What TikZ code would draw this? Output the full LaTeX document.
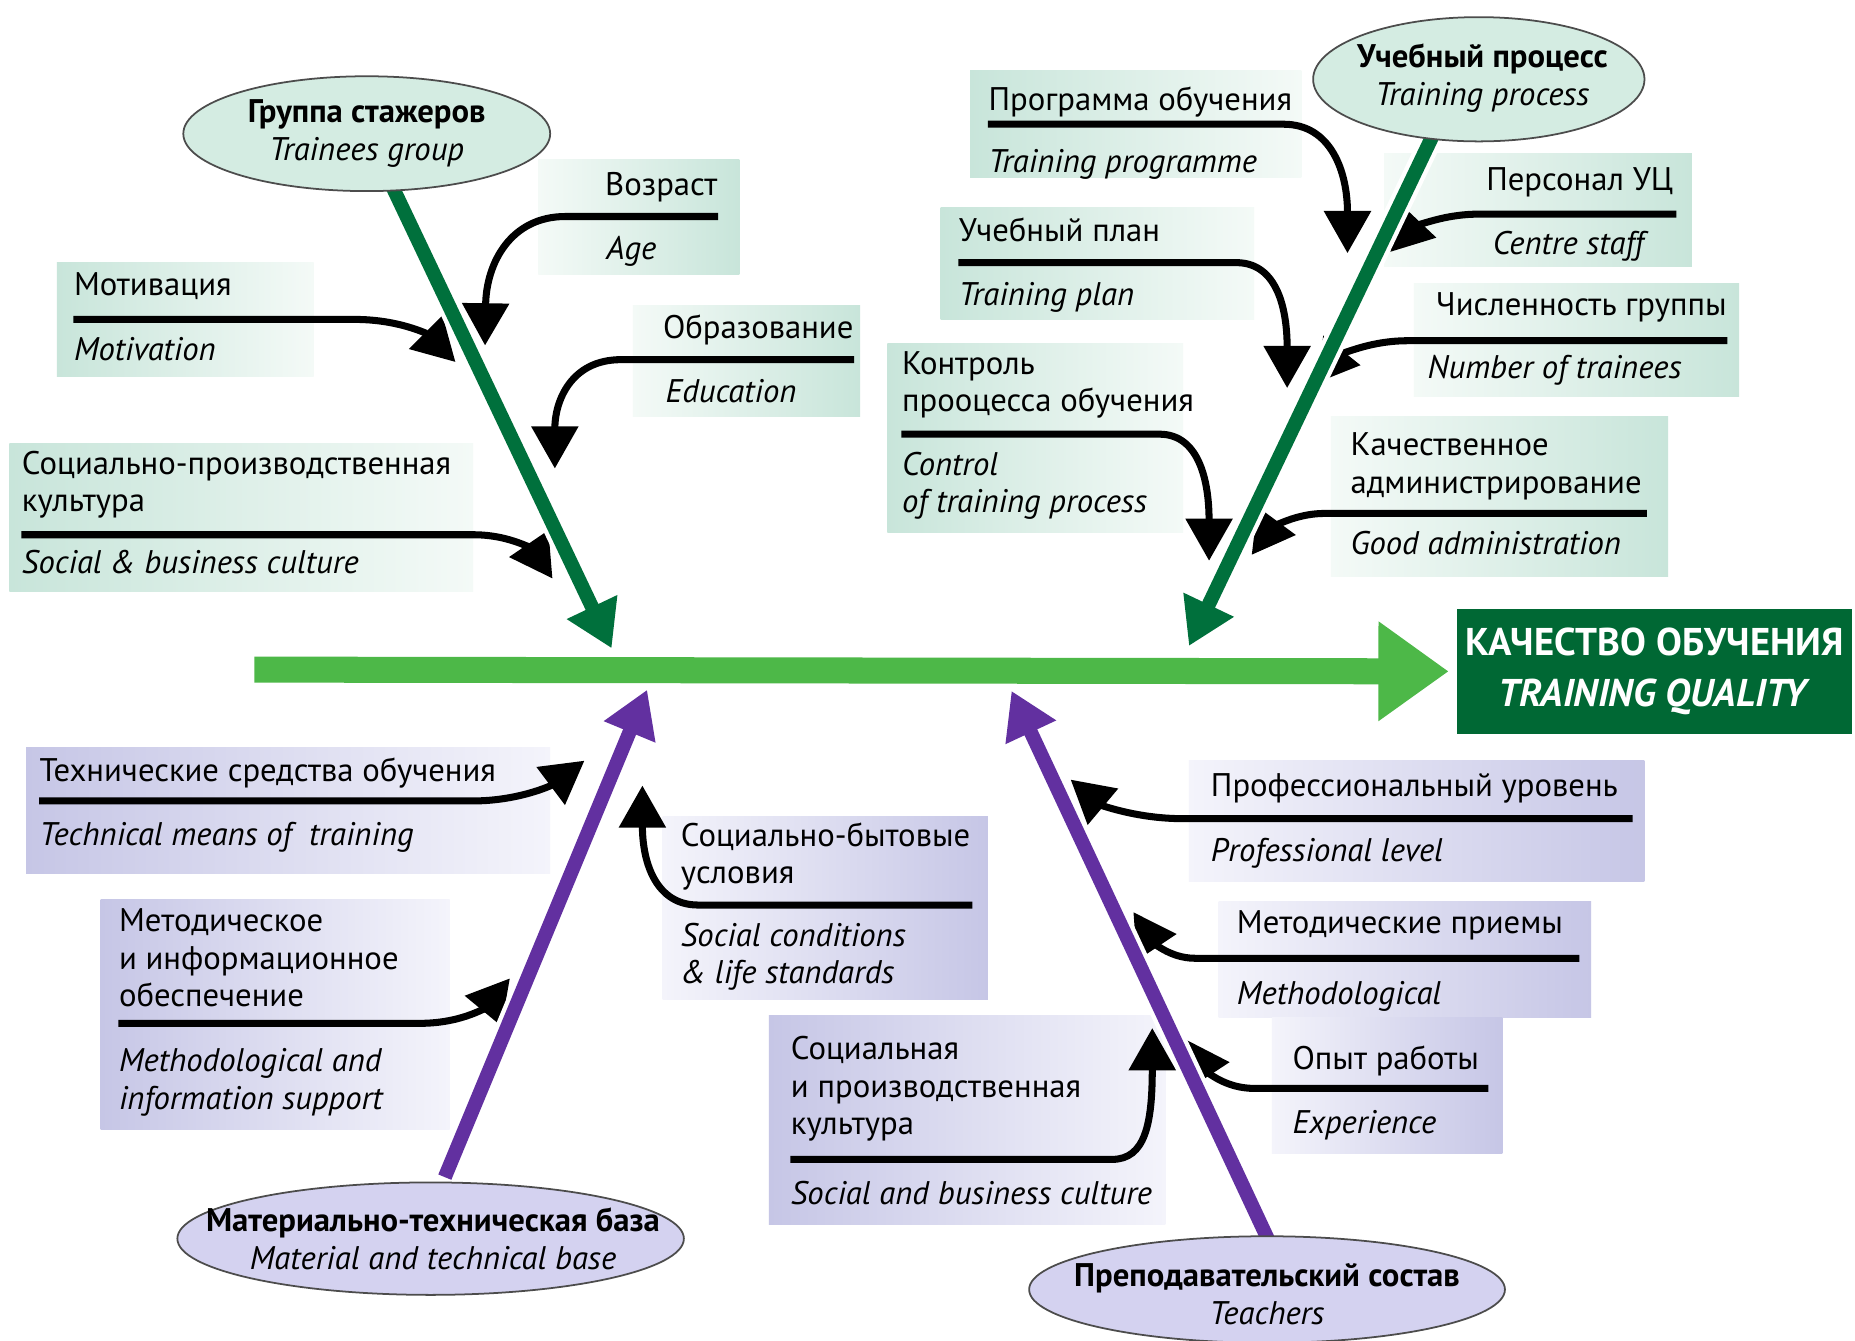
\documentclass[tikz,border=0pt]{standalone}
\usepackage{fontspec}
\setmainfont{PT Sans}
\usetikzlibrary{arrows.meta,shapes.geometric}
\definecolor{spineG}{RGB}{77,184,72}
\definecolor{boneG}{RGB}{0,112,60}
\definecolor{resG}{RGB}{0,104,52}
\definecolor{boneP}{RGB}{98,48,160}
\definecolor{ellG}{RGB}{212,236,226}
\definecolor{ellP}{RGB}{212,210,240}
\definecolor{boxGd}{RGB}{200,229,218}
\definecolor{boxGl}{RGB}{244,250,247}
\definecolor{boxPd}{RGB}{198,198,230}
\definecolor{boxPl}{RGB}{244,244,251}
\begin{document}
\begin{tikzpicture}[x=0.011830cm,y=-0.011830cm,
  ru/.style={inner sep=0pt, font=\fontsize{9.3}{10.7}\selectfont, align=left},
  en/.style={inner sep=0pt, font=\fontsize{9.3}{10.7}\selectfont\itshape, align=left},
  gL/.style={left color=boxGd, right color=boxGl},
  gR/.style={left color=boxGl, right color=boxGd},
  pL/.style={left color=boxPd, right color=boxPl},
  pR/.style={left color=boxPl, right color=boxPd},
  conn/.style={line width=2pt, -{Triangle[length=12pt,width=13pt]}},
  bone/.style={line width=4pt, -{Triangle[length=13pt,width=15pt]},
     preaction={draw=white, line width=6.5pt, -}},
  ell/.style={ellipse, draw=black!70, line width=0.5pt, inner sep=0pt},
  elltxt/.style={inner sep=0pt, align=center, font=\fontsize{9.3}{10.9}\selectfont},
]
\useasboundingbox (0,0) rectangle (1568,1133);
\fill[white] (0,0) rectangle (1568,1133);

% ---------- boxes ----------
\path[gR] (455,135) rectangle (625,232);
\path[gL] (48,222) rectangle (265,318);
\path[gR] (535,258) rectangle (727,352);
\path[gL] (8,375) rectangle (400,500);
\path[gL] (820,60) rectangle (1100,150);
\path[gR] (1170,130) rectangle (1430,225);
\path[gL] (795,175) rectangle (1060,270);
\path[gR] (1195,240) rectangle (1470,335);
\path[gL] (750,290) rectangle (1000,450);
\path[gR] (1125,352) rectangle (1410,487);
\path[pL] (22,632) rectangle (465,738);
\path[pR] (560,690) rectangle (835,845);
\path[pL] (85,760) rectangle (380,955);
\path[pR] (1005,643) rectangle (1390,745);
\path[pR] (1030,762) rectangle (1345,860);
\path[pR] (1075,860) rectangle (1270,975);
\path[pL] (650,858) rectangle (985,1035);

% ---------- connector end points ----------
\coordinate (a1s) at (607,183);  \coordinate (a1t) at (410,292);
\coordinate (a2s) at (62,270);   \coordinate (a2t) at (385,306);
\coordinate (a3s) at (722,304);  \coordinate (a3t) at (469,396);
\coordinate (a4s) at (18,452);   \coordinate (a4t) at (467,489);
\coordinate (a5s) at (835,105);  \coordinate (a5t) at (1139,214);
\coordinate (a6s) at (1417,181); \coordinate (a6t) at (1175,213);
\coordinate (a7s) at (810,222);  \coordinate (a7t) at (1088,328);
\coordinate (a8s) at (1460,288); \coordinate (a8t) at (1112,324);
\coordinate (a9s) at (762,367);  \coordinate (a9t) at (1022,474);
\coordinate (a10s) at (1392,434); \coordinate (a10t) at (1058,469);
\coordinate (a11s) at (33,677);  \coordinate (a11t) at (494,643);
\coordinate (a12s) at (822,765); \coordinate (a12t) at (543,664);
\coordinate (a13s) at (100,865); \coordinate (a13t) at (431,827);
\coordinate (a14s) at (1380,692); \coordinate (a14t) at (905,659);
\coordinate (a15s) at (1335,810); \coordinate (a15t) at (958,771);
\coordinate (a16s) at (1258,920); \coordinate (a16t) at (1003,879);
\coordinate (a17s) at (668,980); \coordinate (a17t) at (974,869);

% ---------- connectors ----------
\draw[conn] (a1s) -- (478,183) .. controls (432,183) and (411,222) .. (a1t);
\draw[conn] (a2s) -- (300,270) .. controls (338,270) and (362,283) .. (a2t);
\draw[conn] (a3s) -- (525,304) .. controls (482,304) and (469,340) .. (a3t);
\draw[conn] (a4s) -- (400,452) .. controls (434,452) and (452,467) .. (a4t);
\draw[conn] (a5s) -- (1085,105) .. controls (1125,105) and (1139,145) .. (a5t);
\draw[conn] (a6s) -- (1250,181) .. controls (1215,181) and (1192,195) .. (a6t);
\draw[conn] (a7s) -- (1045,222) .. controls (1080,222) and (1088,262) .. (a7t);
\draw[conn] (a8s) -- (1190,288) .. controls (1152,288) and (1128,304) .. (a8t);
\draw[conn] (a9s) -- (980,367) .. controls (1015,367) and (1022,410) .. (a9t);
\draw[conn] (a10s) -- (1120,434) .. controls (1090,434) and (1072,450) .. (a10t);
\draw[conn] (a11s) -- (400,677) .. controls (438,677) and (466,664) .. (a11t);
\draw[conn] (a12s) -- (590,765) .. controls (555,765) and (543,730) .. (a12t);
\draw[conn] (a13s) -- (355,865) .. controls (392,865) and (412,850) .. (a13t);
\draw[conn] (a14s) -- (1000,692) .. controls (960,692) and (930,680) .. (a14t);
\draw[conn] (a15s) -- (1010,810) .. controls (988,810) and (974,795) .. (a15t);
\draw[conn] (a16s) -- (1060,920) .. controls (1035,920) and (1020,905) .. (a16t);
\draw[conn] (a17s) -- (940,980) .. controls (968,980) and (974,950) .. (a17t);

% ---------- bones ----------
\coordinate (b1) at (328,150); \coordinate (t1) at (517,548);
\coordinate (b2) at (1219,98);  \coordinate (t2) at (1005,546);
\coordinate (b3) at (376,995); \coordinate (t3) at (547,583);
\coordinate (b4) at (1072,1048); \coordinate (t4) at (855,584);
\draw[bone, draw=boneG, fill=boneG] (b1) -- (t1);
\draw[bone, draw=boneG, fill=boneG] (b2) -- (t2);
\draw[bone, draw=boneP, fill=boneP] (b3) -- (t3);
\draw[bone, draw=boneP, fill=boneP] (b4) -- (t4);

% ---------- category ellipses ----------
\node[ell, fill=ellG, minimum width=3.667cm, minimum height=1.148cm] (e1) at (310,113) {};
\node[elltxt] (e1t) at (310,113) {\textbf{Группа стажеров}\\\textit{Trainees group}};
\node[ell, fill=ellG, minimum width=3.312cm, minimum height=1.242cm] (e2) at (1250,67) {};
\node[elltxt] (e2t) at (1253,66) {\textbf{Учебный процесс}\\\textit{Training process}};
\node[ell, fill=ellP, minimum width=5.063cm, minimum height=1.124cm] (e3) at (364,1047) {};
\node[elltxt] (e3t) at (366,1047) {\textbf{Материально-техническая база}\\\textit{Material and technical base}};
\node[ell, fill=ellP, minimum width=4.756cm, minimum height=1.065cm] (e4) at (1071,1090) {};
\node[elltxt] (e4t) at (1071,1094) {\textbf{Преподавательский состав}\\\textit{Teachers}};

% ---------- spine and result ----------
\node[fill=resG, minimum width=3.939cm, minimum height=1.242cm, inner sep=0pt,
  text=white, align=center, font=\fontsize{11}{14.5}\selectfont\bfseries] (res) at (1398.5,567.5)
  {КАЧЕСТВО ОБУЧЕНИЯ\\\textit{TRAINING QUALITY}};
\coordinate (sp) at (215,566);
\draw[spineG, line width=7.4pt, -{Triangle[length=20pt,width=27pt]}] (sp) -- ([xshift=-0.08cm]res.west);

% ---------- labels: upper left ----------
\node[ru, anchor=base east] (l1) at (607,165) {Возраст};
\node[en, anchor=base west] (l1e) at (512,219) {Age};
\node[ru, anchor=base west] (l2) at (62,250) {Мотивация};
\node[en, anchor=base west] (l2e) at (62,305) {Motivation};
\node[ru, anchor=base east] (l3) at (722,286) {Образование};
\node[en, anchor=base west] (l3e) at (562,340) {Education};
\node[ru, anchor=north west] (l4) at (18,380.5) {Социально-производственная\\культура};
\node[en, anchor=base west] (l4e) at (18,485) {Social \& business culture};

% ---------- labels: upper right ----------
\node[ru, anchor=base west] (l5) at (835,93) {Программа обучения};
\node[en, anchor=base west] (l5e) at (835,146) {Training programme};
\node[ru, anchor=base east] (l6) at (1415,161) {Персонал УЦ};
\node[en, anchor=base east] (l6e) at (1390,215) {Centre staff};
\node[ru, anchor=base west] (l7) at (810,204) {Учебный план};
\node[en, anchor=base west] (l7e) at (810,258) {Training plan};
\node[ru, anchor=base east] (l8) at (1460,267) {Численность группы};
\node[en, anchor=base east] (l8e) at (1422,320) {Number of trainees};
\node[ru, anchor=north west] (l9) at (762,296.5) {Контроль\\прооцесса обучения};
\node[en, anchor=north west] (l9e) at (762,381.5) {Control\\of training process};
\node[ru, anchor=north west] (l10) at (1141,365.5) {Качественное\\администрирование};
\node[en, anchor=base west] (l10e) at (1141,469) {Good administration};

% ---------- labels: lower left ----------
\node[ru, anchor=base west] (l11) at (33,661) {Технические средства обучения};
\node[en, anchor=base west] (l11e) at (33,715) {Technical means of~~training};
\node[ru, anchor=north west] (l12) at (575,694.5) {Социально-бытовые\\условия};
\node[en, anchor=north west] (l12e) at (575,779.5) {Social conditions\\\& life standards};
\node[ru, anchor=north west] (l13) at (100,767.5) {Методическое\\и информационное\\обеспечение};
\node[en, anchor=north west] (l13e) at (100,885.5) {Methodological and\\information support};

% ---------- labels: lower right ----------
\node[ru, anchor=base west] (l14) at (1023,673) {Профессиональный уровень};
\node[en, anchor=base west] (l14e) at (1023,728) {Professional level};
\node[ru, anchor=base west] (l15) at (1045,789) {Методические приемы};
\node[en, anchor=base west] (l15e) at (1045,849) {Methodological};
\node[ru, anchor=base west] (l16) at (1092,904) {Опыт работы};
\node[en, anchor=base west] (l16e) at (1092,958) {Experience};
\node[ru, anchor=north west] (l17) at (668,875.5) {Социальная\\и производственная\\культура};
\node[en, anchor=base west] (l17e) at (668,1018) {Social and business culture};
\end{tikzpicture}
\end{document}
